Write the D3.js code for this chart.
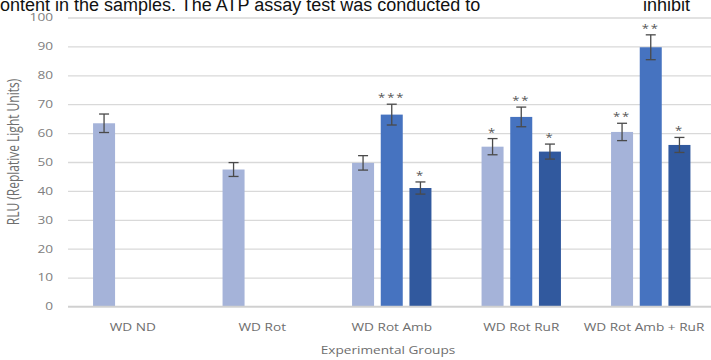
<!DOCTYPE html>
<html>
<head>
<meta charset="utf-8">
<script src="https://cdn.jsdelivr.net/npm/d3@7"></script>
<style>
  html, body { margin: 0; padding: 0; background: #fff; }
  svg { display: block; }
</style>
</head>
<body>
<svg id="chart" width="711" height="360"></svg>
<script>
// Experimental groups along the x axis
const groups = ["WD ND", "WD Rot", "WD Rot Amb", "WD Rot RuR", "WD Rot Amb + RuR"];
const seriesKeys = ["s1", "s2", "s3"];

// Mean RLU per group for each bar series (null = no bar)
const values1 = [63.4, 47.4, 49.7, 55.3, 60.4];
const values2 = [null, null, 66.4, 65.6, 89.7];
const values3 = [null, null, 41.0, 53.6, 55.9];

// Error bar half-widths
const err1 = [3.2, 2.4, 2.5, 2.8, 3.0];
const err2 = [null, null, 3.6, 3.4, 4.3];
const err3 = [null, null, 2.1, 2.6, 2.6];

// Significance marks above bars
const stars1 = ["", "", "", "*", "**"];
const stars2 = ["", "", "***", "**", "**"];
const stars3 = ["", "", "*", "*", "*"];

const yTicks = [0, 10, 20, 30, 40, 50, 60, 70, 80, 90, 100];
const yTitle = "RLU (Replative Light Units)";
const xTitle = "Experimental Groups";

const colors = { s1: "#a5b3d9", s2: "#4673c0", s3: "#31599e" };

const svg = d3.select("#chart");
const stretch = 1.3; // horizontal text scale

// Running text of the page above the figure
svg.append("text")
  .attr("x", 0).attr("y", 11)
  .attr("font-family", "Liberation Sans, Arial, sans-serif")
  .attr("font-size", 18).attr("fill", "#111")
  .text("ontent in the samples. The ATP assay test was conducted to");
svg.append("text")
  .attr("x", 643).attr("y", 11)
  .attr("font-family", "Liberation Sans, Arial, sans-serif")
  .attr("font-size", 18).attr("fill", "#111")
  .text("inhibit");

const plotLeft = 68, plotRight = 715.5, plotTop = 17.5, plotBottom = 306.5;

const y = d3.scaleLinear().domain([0, 100]).range([plotBottom, plotTop]);
const x0 = d3.scaleBand().domain(groups).range([plotLeft, plotRight])
  .paddingInner(0.387).paddingOuter(0.1935);
const x1 = d3.scaleBand().domain(seriesKeys).range([0, x0.bandwidth()])
  .paddingInner(0.233);

// Gridlines and tick labels
const yAxis = d3.axisLeft(y).tickValues(yTicks).tickSize(-(plotRight - plotLeft)).tickPadding(15);
const gy = svg.append("g").attr("transform", `translate(${plotLeft},0)`).call(yAxis);
gy.select(".domain").remove();
gy.selectAll(".tick line").attr("stroke", "#d9d9d9").attr("stroke-width", 1.3);
gy.selectAll(".tick text")
  .attr("x", 0)
  .attr("transform", `translate(-15,0) scale(${stretch},1)`)
  .attr("font-family", "Open Sans, sans-serif")
  .attr("font-size", 10.5)
  .attr("fill", "#808080");

// Flatten bar data
const rows = [];
groups.forEach((g, i) => {
  [[values1, err1, stars1], [values2, err2, stars2], [values3, err3, stars3]].forEach((arr, k) => {
    const v = arr[0][i];
    if (v == null) return;
    rows.push({ group: g, key: seriesKeys[k], value: v, err: arr[1][i], star: arr[2][i] });
  });
});

const bx = d => x0(d.group) + x1(d.key);
const bw = x1.bandwidth();

svg.append("g").selectAll("rect").data(rows).join("rect")
  .attr("x", bx)
  .attr("y", d => y(d.value))
  .attr("width", bw)
  .attr("height", d => y(0) - y(d.value))
  .attr("fill", d => colors[d.key]);

// Error bars
const eb = svg.append("g").attr("stroke", "#4a4a4a").attr("stroke-width", 1.3).attr("fill", "none");
rows.forEach(d => {
  const cx = bx(d) + bw / 2;
  const yt = y(d.value + d.err), yb = y(d.value - d.err);
  eb.append("line").attr("x1", cx).attr("x2", cx).attr("y1", yt).attr("y2", yb);
  eb.append("line").attr("x1", cx - 5).attr("x2", cx + 5).attr("y1", yt).attr("y2", yt);
  eb.append("line").attr("x1", cx - 5).attr("x2", cx + 5).attr("y1", yb).attr("y2", yb);
});

// Significance asterisks
svg.append("g").selectAll("text").data(rows.filter(d => d.star)).join("text")
  .attr("transform", d => `translate(${bx(d) + bw / 2},${y(d.value + d.err) - 3}) scale(${stretch},1)`)
  .attr("text-anchor", "middle")
  .attr("font-family", "Open Sans, sans-serif")
  .attr("font-size", 10)
  .attr("letter-spacing", 1.5)
  .attr("fill", "#555")
  .text(d => d.star);

// Baseline
svg.append("line")
  .attr("x1", plotLeft).attr("x2", plotRight)
  .attr("y1", y(0)).attr("y2", y(0))
  .attr("stroke", "#d0d0d0").attr("stroke-width", 1.3);

// Category labels
svg.append("g").selectAll("text").data(groups).join("text")
  .attr("transform", g => {
    const cx = Math.min(x0(g) + x0.bandwidth() / 2, 644);
    return `translate(${cx},331) scale(${stretch},1)`;
  })
  .attr("text-anchor", "middle")
  .attr("font-family", "Open Sans, sans-serif")
  .attr("font-size", 10.5)
  .attr("fill", "#6e6e6e")
  .text(g => g);

// Axis titles
svg.append("text")
  .attr("transform", `translate(388,354) scale(${stretch},1)`)
  .attr("text-anchor", "middle")
  .attr("font-family", "Open Sans, sans-serif")
  .attr("font-size", 10.5)
  .attr("fill", "#6e6e6e")
  .attr("xml:space", "preserve")
  .text(xTitle);

svg.append("text")
  .attr("transform", `translate(19,152) scale(${stretch},1) rotate(-90)`)
  .attr("text-anchor", "middle")
  .attr("font-family", "Open Sans, sans-serif")
  .attr("font-size", 12)
  .attr("fill", "#6e6e6e")
  .text(yTitle);
</script>
</body>
</html>
